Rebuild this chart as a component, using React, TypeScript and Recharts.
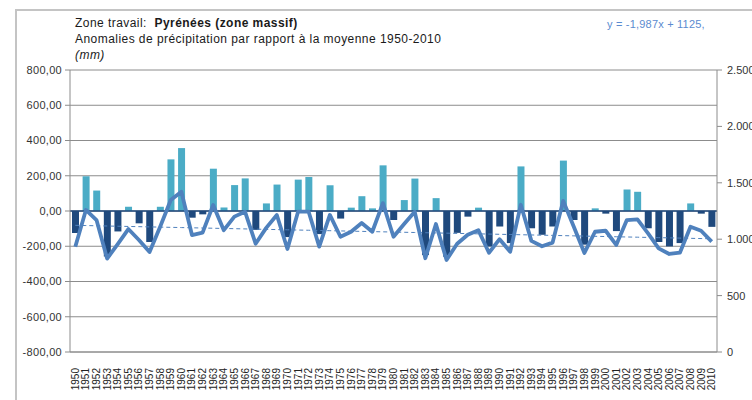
import React from "react"
import { Bar, Cell, CartesianGrid, ComposedChart, Line, ReferenceLine, XAxis, YAxis } from "recharts"

// Années (catégories)
const years = [
  "1950", "1951", "1952", "1953", "1954", "1955", "1956", "1957", "1958", "1959",
  "1960", "1961", "1962", "1963", "1964", "1965", "1966", "1967", "1968", "1969",
  "1970", "1971", "1972", "1973", "1974", "1975", "1976", "1977", "1978", "1979",
  "1980", "1981", "1982", "1983", "1984", "1985", "1986", "1987", "1988", "1989",
  "1990", "1991", "1992", "1993", "1994", "1995", "1996", "1997", "1998", "1999",
  "2000", "2001", "2002", "2003", "2004", "2005", "2006", "2007", "2008", "2009",
  "2010",
]

// Anomalies par rapport à la moyenne 1950-2010 (mm), axe de gauche
const anomalies = [
  -125, 197, 116, -258, -116, 24, -70, -176, 24, 293,
  357, -38, -19, 240, 20, 147, 185, -107, 43, 150,
  -148, 178, 193, -131, 146, -43, 19, 84, 15, 259,
  -51, 62, 184, -250, 73, -260, -124, -32, 19, -201,
  -88, -182, 253, -98, -135, -88, 286, -51, -191, 15,
  -15, -114, 122, 109, -98, -176, -201, -182, 43, -15,
  -90,
]

// Cumul annuel de précipitation (mm), axe de droite
const precipitation = [
  933, 1259, 1170, 828, 957, 1090, 993, 886, 1111, 1347,
  1421, 1037, 1058, 1303, 1080, 1200, 1244, 960, 1100, 1215,
  913, 1244, 1244, 934, 1215, 1022, 1066, 1143, 1066, 1320,
  1022, 1135, 1244, 831, 1135, 816, 960, 1040, 1080, 880,
  1000, 889, 1305, 985, 937, 970, 1340, 1110, 878, 1066,
  1075, 949, 1170, 1176, 1052, 919, 869, 880, 1111, 1075,
  978,
]

// Courbe de tendance affichée sur le graphique : y = -1,987x + 1125
const TREND_SLOPE = -1.987
const TREND_INTERCEPT = 1125

const leftTicks = [-800, -600, -400, -200, 0, 200, 400, 600, 800]
const rightTicks = [0, 500, 1000, 1500, 2000, 2500]

const chartData = years.map((year, i) => ({
  year,
  anomaly: anomalies[i],
  precip: precipitation[i],
  trend: TREND_INTERCEPT + TREND_SLOPE * (i + 1),
}))

const FONT = "'Liberation Sans', Arial, sans-serif"
const LIGHT = "#4BACC6"
const DARK = "#1F497D"
const LINE = "#4F81BD"
const GRID = "#8c8c8c"

const formatLeft = (v: number) => v.toFixed(2).replace(".", ",")
const formatRight = (v: number) =>
  v >= 1000 ? `${Math.floor(v / 1000)}.${String(v % 1000).padStart(3, "0")}` : String(v)

function YearTick({ x, y, payload }: any) {
  return (
    <text
      x={x}
      y={y}
      transform={`rotate(-90 ${x} ${y})`}
      textAnchor="end"
      dominantBaseline="central"
      fontSize={10}
      fontFamily={FONT}
      fill="#222"
    >
      {payload.value}
    </text>
  )
}

export default function App() {
  return (
    <div
      style={{
        position: "absolute",
        left: 0,
        top: 0,
        width: 752,
        height: 400,
        background: "#fff",
        fontFamily: FONT,
        overflow: "hidden",
      }}
    >
      <div
        style={{
          position: "absolute",
          left: 15,
          top: 9,
          width: 760,
          height: 420,
          borderTop: "2px solid #c4c4c4",
          borderLeft: "2px solid #c4c4c4",
        }}
      />
      <div style={{ position: "absolute", left: 75, top: 15, fontSize: 12, letterSpacing: 0.45, color: "#1a1a1a", lineHeight: "16px" }}>
        <div>
          Zone travail:&nbsp; <span style={{ fontWeight: 600 }}>Pyrénées (zone massif)</span>
        </div>
        <div>Anomalies de précipitation par rapport à la moyenne 1950-2010</div>
        <div style={{ fontStyle: "italic" }}>(mm)</div>
      </div>
      <div style={{ position: "absolute", left: 607, top: 18, fontSize: 11, color: "#5b8bd0", letterSpacing: 0.2 }}>
        y = -1,987x + 1125,
      </div>

      <ComposedChart
        width={752}
        height={400}
        data={chartData}
        margin={{ top: 70, right: 0, bottom: 0, left: 0 }}
        style={{ position: "absolute", left: 0, top: 0 }}
      >
        <CartesianGrid yAxisId="left" vertical={false} stroke={GRID} />
        <XAxis
          dataKey="year"
          height={48}
          interval={0}
          tickLine={false}
          tickSize={0}
          tickMargin={16}
          axisLine={{ stroke: GRID }}
          tick={<YearTick />}
        />
        <YAxis
          yAxisId="left"
          domain={[-800, 800]}
          ticks={leftTicks}
          width={70}
          tickFormatter={formatLeft}
          tickSize={5}
          tickMargin={3}
          tickLine={{ stroke: GRID }}
          axisLine={{ stroke: GRID }}
          tick={{ fontSize: 11, fill: "#333", fontFamily: FONT, letterSpacing: 0.3 }}
        />
        <YAxis
          yAxisId="right"
          orientation="right"
          domain={[0, 2500]}
          ticks={rightTicks}
          width={35}
          tickFormatter={formatRight}
          tickSize={5}
          tickMargin={5}
          tickLine={{ stroke: GRID }}
          axisLine={{ stroke: GRID }}
          tick={{ fontSize: 11, fill: "#333", fontFamily: FONT, textAnchor: "start" }}
        />
        <Bar yAxisId="left" dataKey="anomaly" barSize={7} isAnimationActive={false}>
          {chartData.map((d) => (
            <Cell key={d.year} fill={d.anomaly >= 0 ? LIGHT : DARK} />
          ))}
        </Bar>
        <ReferenceLine yAxisId="left" y={0} stroke={DARK} strokeWidth={1.5} />
        <Line
          yAxisId="right"
          dataKey="trend"
          stroke={LINE}
          strokeWidth={1}
          strokeDasharray="4 3"
          dot={false}
          isAnimationActive={false}
        />
        <Line
          yAxisId="right"
          dataKey="precip"
          stroke={LINE}
          strokeWidth={3.8}
          strokeLinejoin="round"
          dot={false}
          isAnimationActive={false}
        />
      </ComposedChart>
    </div>
  )
}
